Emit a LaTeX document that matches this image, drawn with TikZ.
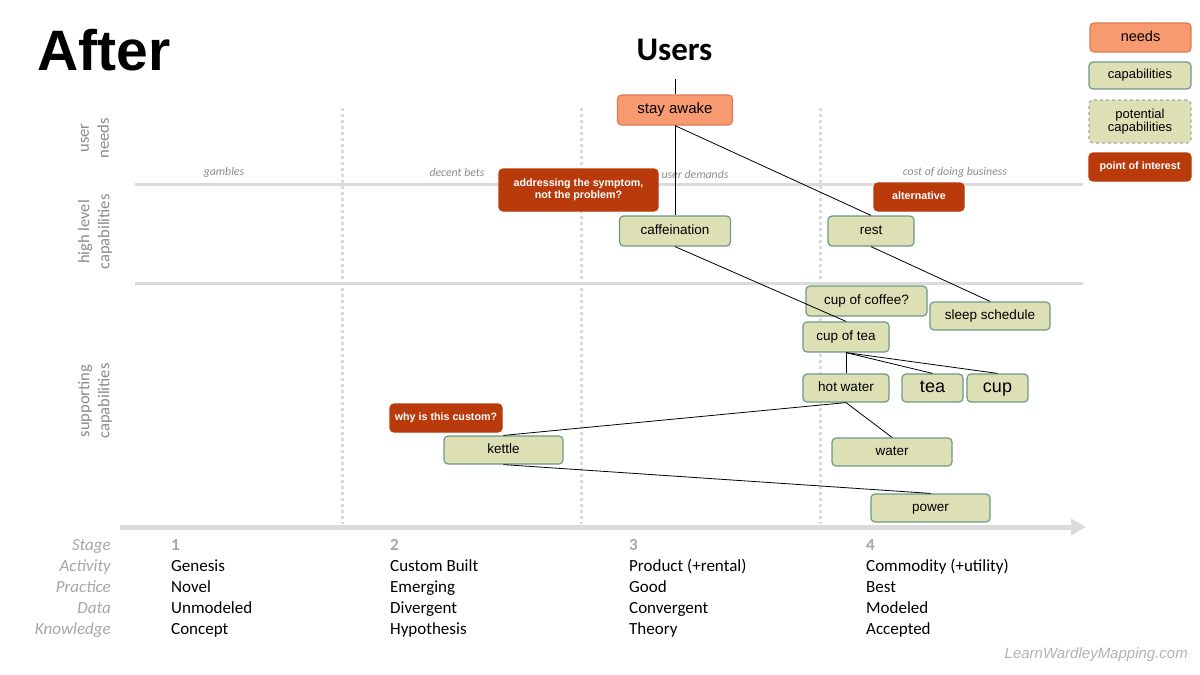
\documentclass[tikz,border=0pt]{standalone}
\usepackage{fontspec}
\setmainfont{Liberation Sans}
\newfontfamily\calibri{Carlito}
\usetikzlibrary{arrows.meta}

\definecolor{needfill}{HTML}{F89A70}
\definecolor{needdraw}{HTML}{DB7B52}
\definecolor{capfill}{HTML}{DCE0B4}
\definecolor{capdraw}{HTML}{6E998A}
\definecolor{poifill}{HTML}{B93B0B}
\definecolor{gridgray}{HTML}{DBDBDB}
\definecolor{labelgray}{HTML}{8A8A8A}

\tikzset{
    mapbox/.style={rounded corners=4pt, line width=1.2pt, align=center,
        inner sep=0pt, execute at begin node={\vphantom{Ag}},
        font=\fontsize{13.5}{15}\selectfont},
    needbox/.style={mapbox, fill=needfill, draw=needdraw},
    capbox/.style={mapbox, fill=capfill, draw=capdraw},
    potbox/.style={mapbox, fill=capfill, draw=gray!70, dashed},
    poibox/.style={mapbox, fill=poifill, draw=poifill, text=white,
        font=\bfseries\fontsize{10.7}{12.5}\selectfont},
    link/.style={black, line width=0.8pt},
    gridline/.style={gridgray, line width=3pt},
    stageline/.style={gridgray, line width=3pt, dash pattern=on 3pt off 3pt},
    layerlabel/.style={rotate=90, align=center, text=labelgray,
        font=\calibri\fontsize{16.5}{20}\selectfont},
    evolabel/.style={text=gray!90, font=\calibri\itshape\fontsize{11.8}{13}\selectfont},
    rowlabel/.style={anchor=base east, inner sep=0pt, text=gray!70,
        font=\calibri\itshape\fontsize{17}{20}\selectfont},
    celltext/.style={anchor=base west, inner sep=0pt,
        font=\calibri\fontsize{17}{20}\selectfont}
}

\begin{document}
\begin{tikzpicture}[x=1pt,y=-1pt]
    %
    % Independent parameters
    \def\mapL{135}                                   % left end of layer lines
    \def\mapR{1083}                                  % right end of layer lines
    \def\axisY{527}                                  % evolution axis height
    \def\rowTop{550}                                 % first baseline of table
    \def\rowSep{21}                                  % baseline skip of table
    %
    \useasboundingbox (0,0) rectangle (1200,675);
    %
    % titles
    \node[anchor=base west, inner sep=0pt, font=\bfseries\fontsize{57}{60}\selectfont]
        (title) at (37,70) {After};
    \node[anchor=base, inner sep=0pt, font=\calibri\bfseries\fontsize{33}{36}\selectfont]
        (users) at (674.5,60) {Users};
    \coordinate (usersfoot) at (675,79);
    %
    % layers and stages
    \draw[gridline] (\mapL,184) -- (\mapR,184);
    \draw[gridline] (\mapL,283) -- (\mapR,283);
    \foreach \xx in {342,581,820}
    {
        \draw[stageline] (\xx,108) -- (\xx,524);
    }
    \draw[gridgray, line width=5pt, -{Triangle[length=15pt,width=16pt]}]
        (120,\axisY) -- (1086,\axisY);
    %
    % layer names
    \node[layerlabel] (lneeds) at (95,138) {user\\needs};
    \node[layerlabel] (lhigh) at (95,232) {high level\\capabilities};
    \node[layerlabel] (lsupp) at (95,401) {supporting\\capabilities};
    %
    % stage names
    \node[evolabel] (gambles) at (224,172) {gambles};
    \node[evolabel] (bets) at (457,172) {decent bets};
    \node[evolabel] (demands) at (695,174) {user demands};
    \node[evolabel] (cost) at (955,172) {cost of doing business};
    %
    % components
    \node[needbox, minimum width=115pt, minimum height=30pt, font=\fontsize{15}{17}\selectfont]
        (awake) at (675,110) {stay awake};
    \node[capbox, minimum width=111pt, minimum height=30pt] (caff) at (675,231) {caffeination};
    \node[capbox, minimum width=86pt, minimum height=30pt] (rest) at (871,231) {rest};
    \node[capbox, minimum width=121pt, minimum height=30pt] (coffee) at (866.5,301) {cup of coffee?};
    \node[capbox, minimum width=120pt, minimum height=28pt] (sleep) at (990,316) {sleep schedule};
    \node[capbox, minimum width=86pt, minimum height=30pt] (cuptea) at (846,337) {cup of tea};
    \node[capbox, minimum width=86pt, minimum height=28pt] (hotw) at (846,388) {hot water};
    \node[capbox, minimum width=61pt, minimum height=28pt, font=\fontsize{18}{20}\selectfont]
        (tea) at (932.5,388) {tea};
    \node[capbox, minimum width=61pt, minimum height=28pt, font=\fontsize{18}{20}\selectfont]
        (cup) at (997.5,388) {cup};
    \node[capbox, minimum width=119pt, minimum height=28pt] (kettle) at (503.5,450) {kettle};
    \node[capbox, minimum width=120pt, minimum height=28pt] (water) at (892,452) {water};
    \node[capbox, minimum width=119pt, minimum height=28pt] (power) at (930.5,508) {power};
    %
    % points of interest
    \node[poibox, minimum width=159pt, minimum height=42pt]
        (symptom) at (578.5,190) {addressing the symptom,\\not the problem?};
    \node[poibox, minimum width=90pt, minimum height=28pt] (alt) at (919,197) {alternative};
    \node[poibox, minimum width=112pt, minimum height=28pt] (custom) at (446,418) {why is this custom?};
    %
    % links
    \draw[link] (usersfoot) -- (awake.north);
    \draw[link] (awake.south) -- (caff.north);
    \draw[link] (awake.south) -- (rest.north);
    \draw[link] (caff.south) -- (cuptea.north);
    \draw[link] (rest.south) -- (sleep.north);
    \draw[link] (cuptea.south) -- (hotw.north);
    \draw[link] (cuptea.south) -- (tea.north);
    \draw[link] (cuptea.south) -- (cup.north);
    \draw[link] (hotw.south) -- (kettle.north);
    \draw[link] (hotw.south) -- (water.north);
    \draw[link] (kettle.south) -- (power.north);
    %
    % legend
    \node[needbox, minimum width=101pt, minimum height=29pt, font=\fontsize{14.5}{16}\selectfont]
        (keyneeds) at (1140.5,37.5) {needs};
    \node[capbox, minimum width=102pt, minimum height=27pt, font=\fontsize{13}{14}\selectfont]
        (keycaps) at (1140,75.5) {capabilities};
    \node[potbox, minimum width=102pt, minimum height=43pt, font=\fontsize{13}{13}\selectfont]
        (keypot) at (1140,121.5) {potential\\capabilities};
    \node[poibox, minimum width=102pt, minimum height=28pt] (keypoi) at (1140,167) {point of interest};
    %
    % evolution table
    \foreach \k/\lbl [evaluate=\k as \yy using \rowTop+\k*\rowSep] in
        {0/Stage,1/Activity,2/Practice,3/Data,4/Knowledge}
    {
        \node[rowlabel] (row-\k) at (111,\yy) {\lbl};
    }
    \foreach \c/\xx/\act/\prac/\dat/\know in
        {1/171/Genesis/Novel/Unmodeled/Concept,
         2/390/Custom Built/Emerging/Divergent/Hypothesis,
         3/629/Product (+rental)/Good/Convergent/Theory,
         4/866/Commodity (+utility)/Best/Modeled/Accepted}
    {
        \node[celltext, text=gray!70, font=\calibri\bfseries\fontsize{17}{20}\selectfont]
            (stage-\c) at (\xx,\rowTop) {\c};
        \node[celltext] (act-\c) at (\xx,\rowTop+\rowSep) {\act};
        \node[celltext] (prac-\c) at (\xx,\rowTop+2*\rowSep) {\prac};
        \node[celltext] (dat-\c) at (\xx,\rowTop+3*\rowSep) {\dat};
        \node[celltext] (know-\c) at (\xx,\rowTop+4*\rowSep) {\know};
    }
    %
    % credit
    \node[anchor=base east, inner sep=0pt, text=gray!60, font=\itshape\fontsize{15}{17}\selectfont]
        (credit) at (1188,658) {LearnWardleyMapping.com};
\end{tikzpicture}
\end{document}
